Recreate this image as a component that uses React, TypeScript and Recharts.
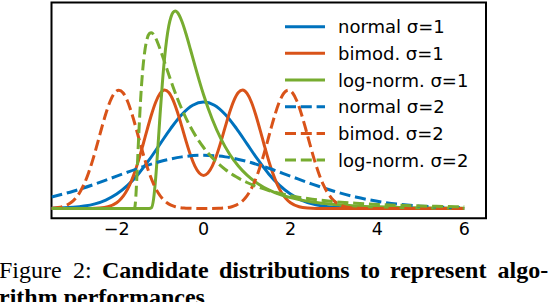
import React from 'react';
import { LineChart, Line, XAxis, YAxis, ReferenceArea } from 'recharts';

// ---- data ----
const xTicks = [-2, 0, 2, 4, 6];
const seriesNames = ['normal σ=1', 'bimod. σ=1', 'log-norm. σ=1', 'normal σ=2', 'bimod. σ=2', 'log-norm. σ=2'];

const normal1X = [-3.5, -3, -2.75, -2.5, -2.25, -2, -1.75, -1.5, -1.25, -1, -0.75, -0.5, -0.25, 0, 0.25, 0.5, 0.75, 1, 1.25, 1.5, 1.75, 2, 2.25, 2.5, 2.75, 3, 3.5, 4, 5, 6];
const normal1Y = [0.0009, 0.0044, 0.0091, 0.0175, 0.0317, 0.054, 0.0863, 0.1295, 0.1826, 0.242, 0.3011, 0.3521, 0.3867, 0.3989, 0.3867, 0.3521, 0.3011, 0.242, 0.1826, 0.1295, 0.0863, 0.054, 0.0317, 0.0175, 0.0091, 0.0044, 0.0009, 0.0001, 0, 0];

const bimod1X = [-3.5, -3, -2.6, -2.4, -2.2, -2, -1.9, -1.8, -1.7, -1.6, -1.5, -1.4, -1.3, -1.2, -1.1, -1, -0.9, -0.8, -0.7, -0.6, -0.5, -0.4, -0.3, -0.2, -0.1, 0, 0.1, 0.2, 0.3, 0.4, 0.5, 0.6, 0.7, 0.8, 0.9, 1, 1.1, 1.2, 1.3, 1.4, 1.5, 1.6, 1.7, 1.8, 1.9, 2, 2.2, 2.4, 2.6, 3, 6];
const bimod1Y = [0, 0, 0.0003, 0.0016, 0.0065, 0.0215, 0.0363, 0.0582, 0.0888, 0.129, 0.1785, 0.235, 0.2945, 0.3512, 0.3988, 0.4309, 0.4434, 0.4343, 0.4051, 0.3604, 0.3064, 0.2504, 0.1992, 0.1586, 0.1327, 0.1238, 0.1327, 0.1586, 0.1992, 0.2504, 0.3064, 0.3604, 0.4051, 0.4343, 0.4434, 0.4309, 0.3988, 0.3512, 0.2945, 0.235, 0.1785, 0.129, 0.0888, 0.0582, 0.0363, 0.0215, 0.0065, 0.0016, 0.0003, 0, 0];

const log1X = [-3.5, -1.25, -1.2, -1.15, -1.1, -1.05, -1, -0.95, -0.9, -0.85, -0.8, -0.75, -0.7, -0.65, -0.6, -0.5, -0.4, -0.3, -0.2, -0.1, 0, 0.2, 0.4, 0.6, 0.8, 1, 1.25, 1.5, 1.75, 2, 2.5, 3, 3.5, 4, 4.5, 5, 5.5, 6];
const log1Y = [0, 0, 0.0027, 0.0361, 0.1184, 0.2325, 0.3541, 0.4662, 0.5601, 0.6326, 0.6844, 0.7174, 0.7349, 0.7394, 0.7338, 0.7011, 0.6515, 0.5945, 0.5359, 0.4791, 0.4261, 0.334, 0.2606, 0.2033, 0.1591, 0.125, 0.0931, 0.07, 0.0531, 0.0406, 0.0243, 0.015, 0.0095, 0.0062, 0.0041, 0.0028, 0.0019, 0.0013];

const normal2X = [-3.5, -3, -2.5, -2, -1.5, -1, -0.5, 0, 0.5, 1, 1.5, 2, 2.5, 3, 3.5, 4, 4.5, 5, 5.5, 6];
const normal2Y = [0.0431, 0.0648, 0.0913, 0.121, 0.1506, 0.176, 0.1933, 0.1995, 0.1933, 0.176, 0.1506, 0.121, 0.0913, 0.0648, 0.0431, 0.027, 0.0159, 0.0088, 0.0046, 0.0022];

const bimod2X = [-3.5, -3.45, -3.35, -3.25, -3.15, -3.05, -2.95, -2.85, -2.75, -2.65, -2.55, -2.45, -2.35, -2.25, -2.15, -2.05, -1.95, -1.85, -1.75, -1.65, -1.55, -1.45, -1.35, -1.25, -1.15, -1.05, -0.95, -0.85, -0.75, -0.65, -0.55, -0.45, -0.35, -0.15, 0, 0.15, 0.35, 0.45, 0.55, 0.65, 0.75, 0.85, 0.95, 1.05, 1.15, 1.25, 1.35, 1.45, 1.55, 1.65, 1.75, 1.85, 1.95, 2.05, 2.15, 2.25, 2.35, 2.45, 2.55, 2.65, 2.75, 2.85, 2.95, 3.05, 3.15, 3.25, 3.35, 3.45, 3.55, 3.75, 4, 6];
const bimod2Y = [0.0012, 0.0017, 0.0035, 0.0068, 0.0127, 0.0223, 0.0375, 0.06, 0.0913, 0.1322, 0.1822, 0.2391, 0.2986, 0.3549, 0.4016, 0.4325, 0.4433, 0.4325, 0.4016, 0.3549, 0.2986, 0.2391, 0.1822, 0.1322, 0.0913, 0.06, 0.0375, 0.0223, 0.0127, 0.0068, 0.0035, 0.0017, 0.0008, 0.0002, 0, 0.0002, 0.0008, 0.0017, 0.0035, 0.0068, 0.0127, 0.0223, 0.0375, 0.06, 0.0913, 0.1322, 0.1822, 0.2391, 0.2986, 0.3549, 0.4016, 0.4325, 0.4433, 0.4325, 0.4016, 0.3549, 0.2986, 0.2391, 0.1822, 0.1322, 0.0913, 0.06, 0.0375, 0.0223, 0.0127, 0.0068, 0.0035, 0.0017, 0.0008, 0.0002, 0, 0];

const log2X = [-3.5, -1.6, -1.58, -1.57, -1.56, -1.55, -1.525, -1.5, -1.475, -1.45, -1.425, -1.4, -1.35, -1.3, -1.25, -1.2, -1.15, -1.1, -1, -0.9, -0.8, -0.7, -0.6, -0.5, -0.4, -0.2, 0, 0.25, 0.5, 0.75, 1, 1.5, 2, 2.5, 3, 3.5, 4, 4.5, 5, 5.5, 6];
const log2Y = [0, 0, 0.0061, 0.02, 0.0419, 0.07, 0.1553, 0.2461, 0.331, 0.4054, 0.4682, 0.5197, 0.5929, 0.635, 0.6546, 0.6584, 0.6516, 0.6375, 0.5969, 0.5492, 0.5007, 0.4543, 0.4113, 0.3721, 0.3367, 0.2766, 0.2285, 0.1818, 0.1461, 0.1187, 0.0973, 0.0672, 0.0477, 0.0348, 0.0259, 0.0197, 0.0152, 0.0119, 0.0094, 0.0075, 0.0061];

const captionLine1 = ['Figure', '2:', 'Candidate', 'distributions', 'to', 'represent', 'algo-'];
const captionLine2 = 'rithm performances';

// ---- styling ----
const BLUE = '#0072BD';
const ORANGE = '#D95319';
const GREEN = '#77AC30';
const DASH = '11 4.8';
const FONT = '"DejaVu Sans", sans-serif';
const SERIF = '"Liberation Serif", "Times New Roman", serif';

const zip = (xs: number[], ys: number[]) => xs.map((x, i) => ({ x, y: ys[i] }));

const series = [
  { name: seriesNames[0], data: zip(normal1X, normal1Y), color: BLUE, dash: undefined as string | undefined },
  { name: seriesNames[1], data: zip(bimod1X, bimod1Y), color: ORANGE, dash: undefined },
  { name: seriesNames[2], data: zip(log1X, log1Y), color: GREEN, dash: undefined },
  { name: seriesNames[3], data: zip(normal2X, normal2Y), color: BLUE, dash: DASH },
  { name: seriesNames[4], data: zip(bimod2X, bimod2Y), color: ORANGE, dash: DASH },
  { name: seriesNames[5], data: zip(log2X, log2Y), color: GREEN, dash: DASH },
];

const X_DOMAIN: [number, number] = [-3.5, 6.5];
const Y_DOMAIN: [number, number] = [-0.0367, 0.7715];

const fmt = (v: number) => (v < 0 ? '\u2212' + Math.abs(v) : String(v));

// caption word positions (justified line)
const capSize = 24;
const capX = [-1, 73, 102, 219, 360, 390, 497.5];

export default function App() {
  return (
    <div style={{ position: 'absolute', left: 0, top: 0, width: 548, height: 302, overflow: 'hidden', background: '#fff' }}>
      <LineChart width={548} height={250} margin={{ top: 2.5, right: 62, bottom: 0, left: 51.5 }}>
        <XAxis
          type="number"
          dataKey="x"
          domain={X_DOMAIN}
          ticks={xTicks}
          allowDataOverflow
          height={31.7}
          axisLine={false}
          tickLine={false}
          tickSize={0}
          tickMargin={4}
          tickFormatter={fmt}
          tick={{ fontFamily: FONT, fontSize: 17.5, fill: '#000' }}
        />
        <YAxis hide type="number" domain={Y_DOMAIN} allowDataOverflow />
        {series.map((s) => (
          <Line
            key={s.name}
            data={s.data}
            dataKey="y"
            name={s.name}
            type="monotone"
            stroke={s.color}
            strokeWidth={3}
            strokeDasharray={s.dash}
            dot={false}
            activeDot={false}
            isAnimationActive={false}
          />
        ))}
        <ReferenceArea
          x1={X_DOMAIN[0]}
          x2={X_DOMAIN[1]}
          y1={Y_DOMAIN[0]}
          y2={Y_DOMAIN[1]}
          fill="none"
          fillOpacity={0}
          stroke="#000"
          strokeWidth={2}
          ifOverflow="visible"
        />
      </LineChart>
      <svg width={548} height={302} style={{ position: 'absolute', left: 0, top: 0, pointerEvents: 'none' }}>
        {series.map((s, i) => {
          const y = 26.7 + i * 26.67;
          return (
            <g key={s.name}>
              <line x1={285} x2={325} y1={y} y2={y} stroke={s.color} strokeWidth={3} strokeDasharray={s.dash} />
              <text x={338} y={y + 6.6} fontFamily={FONT} fontSize={18} fill="#000">
                {s.name}
              </text>
            </g>
          );
        })}
        {captionLine1.map((w, i) => (
          <text
            key={w}
            x={capX[i]}
            y={278}
            fontFamily={SERIF}
            fontSize={capSize}
            fontWeight={i < 2 ? 'normal' : 'bold'}
            fill="#000"
          >
            {w}
          </text>
        ))}
        <text x={-1} y={305} fontFamily={SERIF} fontSize={capSize} fontWeight="bold" fill="#000">
          {captionLine2}
        </text>
      </svg>
    </div>
  );
}
